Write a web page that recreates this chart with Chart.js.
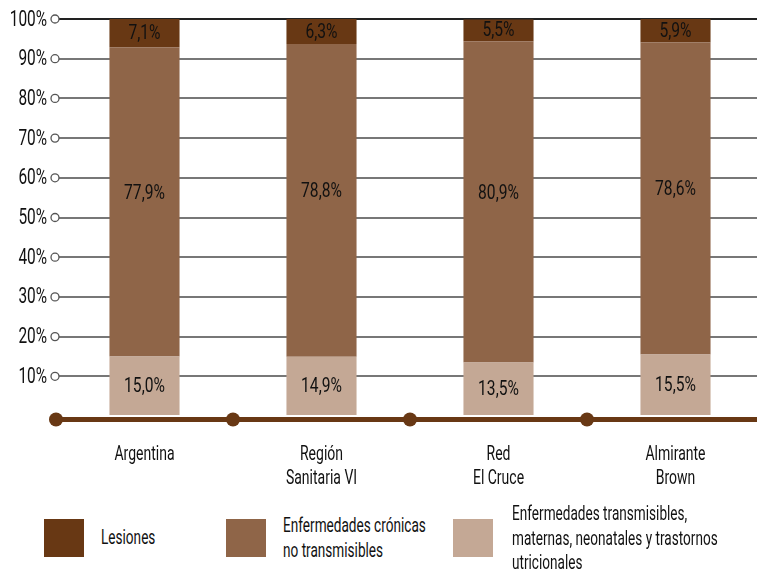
<!DOCTYPE html>
<html lang="es">
<head>
<meta charset="utf-8">
<title>Carga de enfermedad</title>
<script src="https://cdn.jsdelivr.net/npm/chart.js@4/dist/chart.umd.min.js"></script>
<style>
  html, body { margin: 0; padding: 0; background: #fff; overflow: hidden; }
  body { width: 757px; height: 570px; position: relative; font-family: Roboto, sans-serif; color: #111; }
  #wrap { position: absolute; left: 0; top: 0; width: 764px; height: 505px; }
  .leg { position: absolute; top: 519px; }
  .leg .box { position: absolute; left: 0; top: 0; width: 40px; height: 38px; }
  .leg .txt { position: absolute; font-size: 20px; line-height: 24.5px; white-space: nowrap; transform: scaleX(0.68); transform-origin: 0 0; }
</style>
</head>
<body>
<div id="wrap"><canvas id="chart"></canvas></div>

<div class="leg" style="left:44px"><div class="box" style="background:#683814"></div><div class="txt" style="left:57px;top:6px">Lesiones</div></div>
<div class="leg" style="left:226px"><div class="box" style="background:#8f6548"></div><div class="txt" style="left:57px;top:-6px">Enfermedades crónicas<br>no transmisibles</div></div>
<div class="leg" style="left:453px"><div class="box" style="background:#c4a895"></div><div class="txt" style="left:59px;top:-18px">Enfermedades transmisibles,<br>maternas, neonatales y trastornos<br>utricionales</div></div>

<script>
const categorias = [['Argentina'], ['Región', 'Sanitaria VI'], ['Red', 'El Cruce'], ['Almirante', 'Brown']];
const transmisibles = [15.0, 14.9, 13.5, 15.5];
const cronicas = [77.9, 78.8, 80.9, 78.6];
const lesiones = [7.1, 6.3, 5.5, 5.9];
const ticksY = [0, 10, 20, 30, 40, 50, 60, 70, 80, 90, 100];

const FUENTE = 'Roboto, sans-serif';
const MARRON = '#683814';

function fmt(v) {
  return v.toFixed(1).replace('.', ',') + '%';
}

// texto angosto: la fuente se comprime en horizontal
function textoAngosto(ctx, txt, x, y, sx) {
  ctx.save();
  ctx.scale(sx, 1);
  ctx.fillText(txt, x / sx, y);
  ctx.restore();
}

// circulitos en la grilla, eje inferior con puntos y rotulos de ejes
const ejes = {
  id: 'ejes',
  afterDraw(chart) {
    const ctx = chart.ctx;
    const x = chart.scales.x, y = chart.scales.y;
    const area = chart.chartArea;
    ctx.save();
    ctx.fillStyle = '#111';
    ctx.font = '22px ' + FUENTE;
    ctx.textAlign = 'right';
    ctx.textBaseline = 'middle';
    ticksY.forEach(t => {
      if (t === 0) return;
      const py = y.getPixelForValue(t);
      ctx.fillStyle = '#111';
      textoAngosto(ctx, t + '%', area.left - 9, py + 1, 0.7);
      ctx.beginPath();
      ctx.arc(area.left - 1, py, 4, 0, Math.PI * 2);
      ctx.fillStyle = '#fff';
      ctx.fill();
      ctx.lineWidth = 1.3;
      ctx.strokeStyle = '#555';
      ctx.stroke();
    });

    const yBase = y.getPixelForValue(0) + 3.5;
    ctx.beginPath();
    ctx.moveTo(area.left, yBase);
    ctx.lineTo(chart.width, yBase);
    ctx.lineWidth = 5;
    ctx.strokeStyle = MARRON;
    ctx.stroke();
    const paso = x.getPixelForValue(1) - x.getPixelForValue(0);
    ctx.fillStyle = MARRON;
    for (let i = 0; i <= categorias.length; i++) {
      ctx.beginPath();
      ctx.arc(x.getPixelForValue(i) - paso / 2, yBase, 7, 0, Math.PI * 2);
      ctx.fill();
    }

    ctx.fillStyle = '#111';
    ctx.font = '20px ' + FUENTE;
    ctx.textAlign = 'center';
    categorias.forEach((lineas, i) => {
      lineas.forEach((l, k) => {
        textoAngosto(ctx, l, x.getPixelForValue(i), area.bottom + 39 + k * 24, 0.7);
      });
    });
    ctx.restore();
  }
};

// porcentajes dentro de cada segmento
const desplazamiento = [1, -8, 1];
const etiquetas = {
  id: 'etiquetas',
  afterDatasetsDraw(chart) {
    const ctx = chart.ctx;
    ctx.save();
    ctx.font = '20px ' + FUENTE;
    ctx.fillStyle = '#111';
    ctx.textAlign = 'center';
    ctx.textBaseline = 'middle';
    chart.data.datasets.forEach((ds, di) => {
      chart.getDatasetMeta(di).data.forEach((bar, i) => {
        const p = bar.getCenterPoint();
        textoAngosto(ctx, fmt(ds.data[i]), p.x, p.y + desplazamiento[di], 0.78);
      });
    });
    ctx.restore();
  }
};

new Chart(document.getElementById('chart'), {
  type: 'bar',
  data: {
    labels: categorias,
    datasets: [
      { label: 'Enfermedades transmisibles, maternas, neonatales y trastornos utricionales', data: transmisibles, backgroundColor: '#c4a895' },
      { label: 'Enfermedades crónicas no transmisibles', data: cronicas, backgroundColor: '#8f6548' },
      { label: 'Lesiones', data: lesiones, backgroundColor: MARRON }
    ]
  },
  options: {
    responsive: true,
    maintainAspectRatio: false,
    animation: false,
    layout: { padding: { top: 19, right: 0, left: 0, bottom: 0 } },
    datasets: { bar: { barPercentage: 0.396, categoryPercentage: 1 } },
    plugins: { legend: { display: false }, tooltip: { enabled: false } },
    scales: {
      x: {
        stacked: true,
        grid: { display: false },
        border: { display: false },
        ticks: { display: false },
        afterFit(s) { s.height = 89; }
      },
      y: {
        stacked: true,
        min: 0,
        max: 100,
        afterBuildTicks(s) { s.ticks = ticksY.map(v => ({ value: v })); },
        grid: {
          drawTicks: false,
          lineWidth: 2,
          color: c => c.tick.value === 100 ? '#222' : (c.tick.value === 0 ? 'rgba(0,0,0,0)' : '#777')
        },
        border: { display: false },
        ticks: { display: false },
        afterFit(s) { s.width = 56; }
      }
    }
  },
  plugins: [ejes, etiquetas]
});
</script>
</body>
</html>
